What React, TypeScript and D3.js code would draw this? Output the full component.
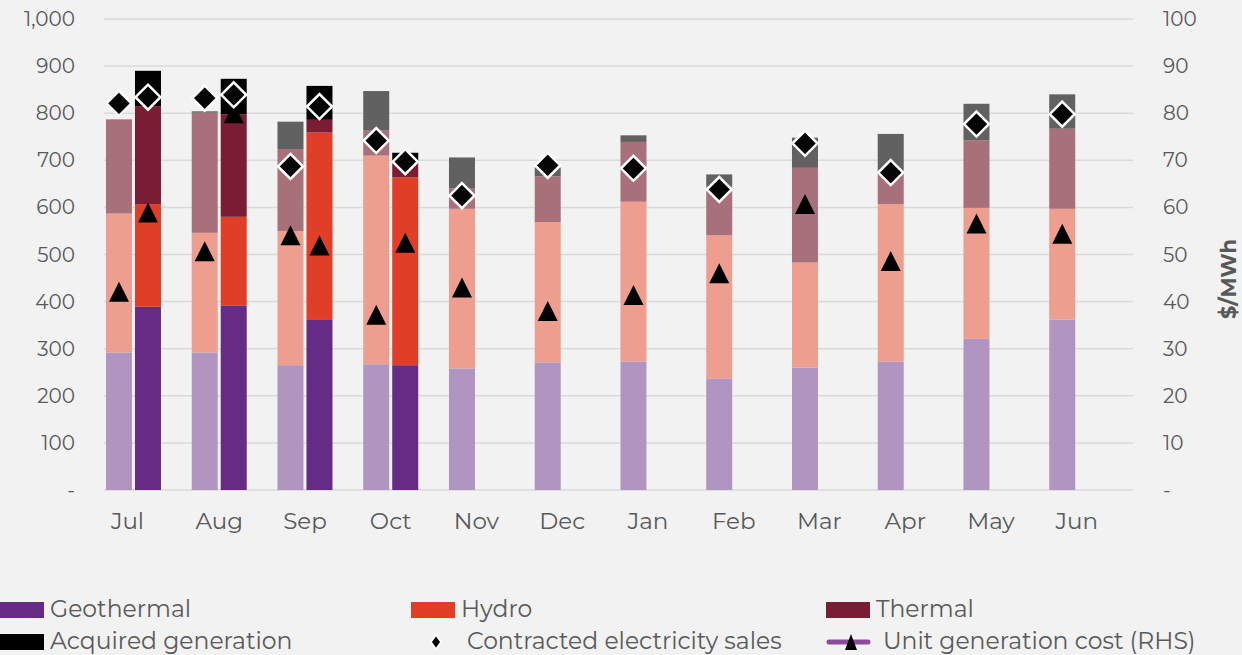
import * as d3 from "d3";

const months = ["Jul", "Aug", "Sep", "Oct", "Nov", "Dec", "Jan", "Feb", "Mar", "Apr", "May", "Jun"];

// prior year (faded bars), GWh
const priorGeo = [292, 292, 265, 267, 258, 271, 273, 237, 260, 273, 321, 362];
const priorHydro = [295, 254, 285, 443, 339, 298, 339, 304, 223, 334, 278, 235];
const priorThermal = [200, 255, 174, 53, 44, 97, 127, 104, 201, 62, 143, 170];
const priorAcquired = [0, 3, 58, 84, 65, 19, 14, 25, 64, 87, 78, 73];
const priorSales = [821, 832, 687, 742, 625, 689, 683, 638, 736, 674, 777, 798];
const priorCost = [42.1, 50.7, 54.1, 37.2, 43.0, 38.0, 41.4, 46.0, 60.7, 48.6, 56.6, 54.4];

// current year (solid bars), Jul-Oct only
const currMonths = ["Jul", "Aug", "Sep", "Oct"];
const currGeo = [389, 392, 361, 265];
const currHydro = [218, 188, 398, 399];
const currThermal = [208, 218, 27, 33];
const currAcquired = [75, 75, 72, 19];
const currSales = [834, 839, 814, 697];
const currCost = [58.9, 80.0, 51.9, 52.5];

const leftTicks = [0, 100, 200, 300, 400, 500, 600, 700, 800, 900, 1000];
const rightTicks = [0, 10, 20, 30, 40, 50, 60, 70, 80, 90, 100];

const keys = ["geo", "hydro", "thermal", "acquired"];
const solidColors: Record<string, string> = { geo: "#662b84", hydro: "#e03e26", thermal: "#7a1c33", acquired: "#000000" };
const fadedColors: Record<string, string> = { geo: "#b195c1", hydro: "#ed9e8f", thermal: "#a8707a", acquired: "#616161" };

const W = 1242, H = 655;
const textColor = "#595959";
const font = "Montserrat, 'Open Sans', sans-serif";

const x = d3.scaleBand().domain(months).range([90.6, 1119.6]);
const sub = d3.scaleBand().domain(["prior", "current"]).range([-27.5, 27.5]).paddingInner(3 / 29);
const y = d3.scaleLinear().domain([0, 1000]).range([490, 19]);
const yR = d3.scaleLinear().domain([0, 100]).range([490, 19]);

const center = (m: string) => (x(m) as number) + x.bandwidth() / 2;

function stackRows(ms: string[], geo: number[], hydro: number[], thermal: number[], acq: number[]) {
  const rows = ms.map((m, i) => ({ month: m, geo: geo[i], hydro: hydro[i], thermal: thermal[i], acquired: acq[i] }));
  return d3.stack<any>().keys(keys)(rows);
}

const priorStack = stackRows(months, priorGeo, priorHydro, priorThermal, priorAcquired);
const currStack = stackRows(currMonths, currGeo, currHydro, currThermal, currAcquired);

const diamond = "M0,-12.5L12.5,0L0,12.5L-12.5,0Z";
const triangle = "M0,-10L10,10L-10,10Z";

export default function App() {
  const bw = sub.bandwidth();
  const fmtL = (v: number) => (v === 0 ? "-" : d3.format(",")(v));
  const fmtR = (v: number) => (v === 0 ? "-" : String(v));

  const markers = (ms: string[], slot: string, sales: number[], cost: number[]) => ({
    tri: ms.map((m, i) => ({ cx: center(m) + (sub(slot) as number) + bw / 2, cy: yR(cost[i]) })),
    dia: ms.map((m, i) => ({ cx: center(m) + (sub(slot) as number) + bw / 2, cy: y(sales[i]) })),
  });
  const pm = markers(months, "prior", priorSales, priorCost);
  const cm = markers(currMonths, "current", currSales, currCost);

  const legendRow1 = [
    { label: "Geothermal", color: solidColors.geo, x: 0 },
    { label: "Hydro", color: solidColors.hydro, x: 411 },
    { label: "Thermal", color: solidColors.thermal, x: 826 },
  ];

  return (
    <svg width={W} height={H} style={{ position: "absolute", left: 0, top: 0, background: "#f2f2f2" }} fontFamily={font}>
      <rect width={W} height={H} fill="#f2f2f2" />
      {/* grid */}
      {leftTicks.map((t) => (
        <line key={t} x1={104} x2={1133} y1={y(t)} y2={y(t)} stroke="#d9d9d9" strokeWidth={1.5} />
      ))}
      {leftTicks.map((t) => (
        <text key={"l" + t} x={75} y={y(t)} dy="0.35em" textAnchor="end" fontSize={20} fill={textColor}>{fmtL(t)}</text>
      ))}
      {rightTicks.map((t) => (
        <text key={"r" + t} x={1163} y={yR(t)} dy="0.35em" textAnchor="start" fontSize={20} fill={textColor}>{fmtR(t)}</text>
      ))}
      <text transform="translate(1236,279) rotate(-90)" textAnchor="middle" fontSize={21} fontWeight="bold" fill={textColor}>$/MWh</text>
      {months.map((m) => (
        <text key={m} x={center(m) - (m === "Jul" ? 6 : 0)} y={529} textAnchor="middle" fontSize={23} fill={textColor}>{m}</text>
      ))}

      {/* prior year bars */}
      {priorStack.map((s) => (
        <g key={"p" + s.key} fill={fadedColors[s.key]}>
          {s.map((d: any) => (
            <rect key={d.data.month} x={center(d.data.month) + (sub("prior") as number)} width={bw}
              y={y(d[1])} height={Math.max(0, y(d[0]) - y(d[1]))} />
          ))}
        </g>
      ))}
      {/* current year bars */}
      {currStack.map((s) => (
        <g key={"c" + s.key} fill={solidColors[s.key]}>
          {s.map((d: any) => (
            <rect key={d.data.month} x={center(d.data.month) + (sub("current") as number)} width={bw}
              y={y(d[1])} height={Math.max(0, y(d[0]) - y(d[1]))} />
          ))}
        </g>
      ))}

      {/* unit generation cost */}
      {[...pm.tri, ...cm.tri].map((p, i) => (
        <path key={"t" + i} d={triangle} transform={`translate(${p.cx},${p.cy})`} fill="#000" />
      ))}
      {/* contracted sales */}
      {[...pm.dia, ...cm.dia].map((p, i) => (
        <path key={"d" + i} d={diamond} transform={`translate(${p.cx},${p.cy})`} fill="#050505" stroke="#fff" strokeWidth={2.5} />
      ))}

      {/* legend */}
      {legendRow1.map((l) => (
        <g key={l.label}>
          <rect x={l.x} y={602} width={44} height={16} fill={l.color} />
          <text x={l.x + 50} y={617} fontSize={23.5} fill={textColor}>{l.label}</text>
        </g>
      ))}
      <rect x={0} y={634} width={44} height={16} fill="#000" />
      <text x={50} y={649} fontSize={23.5} fill={textColor}>Acquired generation</text>
      <path d="M0,-7L5,0L0,7L-5,0Z" transform="translate(436,642)" fill="#000" stroke="#fff" strokeWidth={1.5} />
      <text x={467} y={649} fontSize={23.5} fill={textColor}>Contracted electricity sales</text>
      <line x1={829} x2={868} y1={642} y2={642} stroke="#8e4a9c" strokeWidth={5} strokeLinecap="round" />
      <path d="M0,-8L6,8L-6,8Z" transform="translate(851,642)" fill="#000" />
      <text x={883} y={649} fontSize={23.5} fill={textColor}>Unit generation cost (RHS)</text>
    </svg>
  );
}
